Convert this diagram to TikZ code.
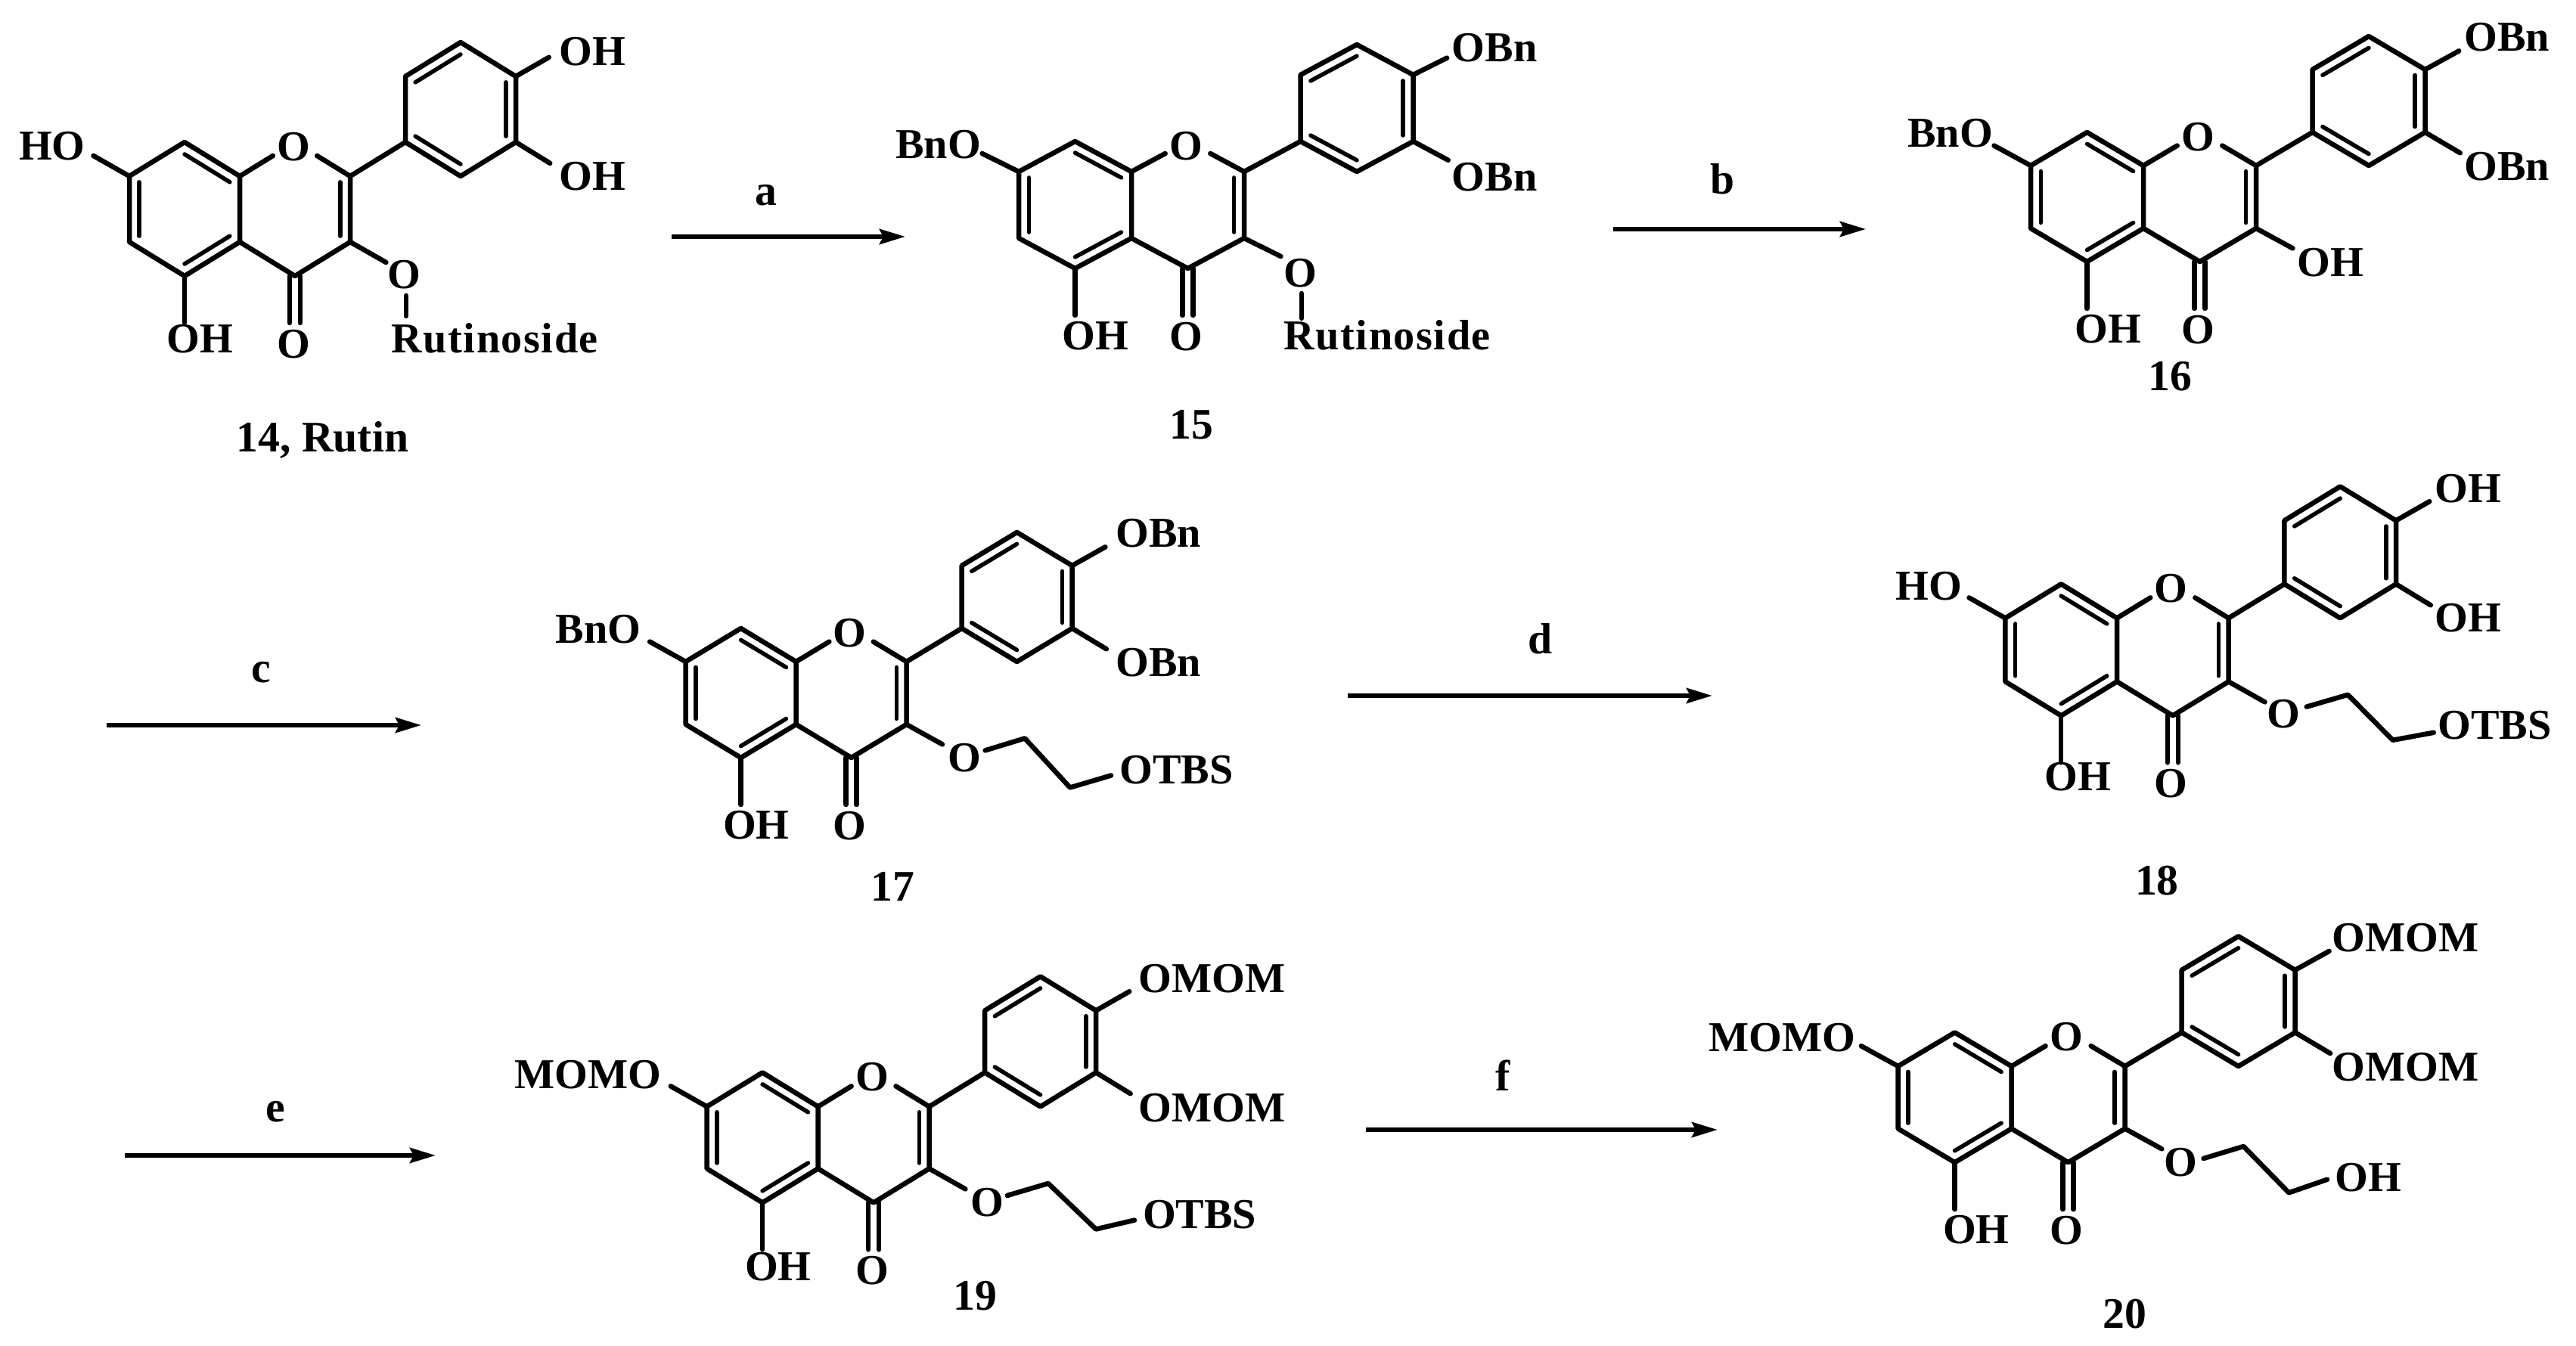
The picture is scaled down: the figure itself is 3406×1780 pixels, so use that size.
\documentclass[tikz,border=0pt]{standalone}
\usepackage{fontspec}
\usetikzlibrary{calc,arrows.meta}
\newfontfamily\namefam{Liberation Serif Bold}
\tikzset{
  bond/.style={line width=0.065cm,line cap=round,line join=round},
  innerbond/.style={line width=0.055cm,line cap=round},
  atom/.style={font=\namefam\fontsize{16}{18}\selectfont,inner sep=0pt,anchor=base west,xshift=-0.01cm},
  ringatom/.style={font=\namefam\fontsize{16}{18}\selectfont,inner sep=0pt},
  molname/.style={font=\namefam\fontsize{16.4}{18}\selectfont,inner sep=0pt,anchor=base west,xshift=-0.03cm},
  steplabel/.style={font=\namefam\fontsize{16.4}{18}\selectfont,inner sep=0pt,anchor=base},
  reaction/.style={line width=0.06cm,-{Stealth[length=0.34cm,width=0.2cm,inset=0.05cm]}}
}
% name, x and y of C8a, half ring width, vertical bond, slant of a ring bond
\newcommand{\flavone}[6]{
  \coordinate (#1c8a) at (#2,#3);
  \coordinate (#1c8) at (#2-#4,#3-#6);
  \coordinate (#1c7) at (#2-2*#4,#3);
  \coordinate (#1c6) at (#2-2*#4,#3+#5);
  \coordinate (#1c5) at (#2-#4,#3+#5+#6);
  \coordinate (#1c4a) at (#2,#3+#5);
  \coordinate (#1c4) at (#2+#4,#3+#5+#6);
  \coordinate (#1c3) at (#2+2*#4,#3+#5);
  \coordinate (#1c2) at (#2+2*#4,#3);
  \coordinate (#1b1) at (#2+3*#4,#3-#6);
  \coordinate (#1b2) at (#2+4*#4,#3);
  \coordinate (#1b3) at (#2+5*#4,#3-#6);
  \coordinate (#1b4) at (#2+5*#4,#3-#6-#5);
  \coordinate (#1b5) at (#2+4*#4,#3-2*#6-#5);
  \coordinate (#1b6) at (#2+3*#4,#3-#6-#5);
  \coordinate (#1ca) at (#2-#4,#3+0.5*#5);
  \coordinate (#1cc) at (#2+#4,#3+0.5*#5);
  \coordinate (#1cb) at (#2+4*#4,#3-#6-0.5*#5);
  \coordinate (#1e1a) at ($(#1c8a)+(0.6*#4,-0.6*#6)$);
  \coordinate (#1e1b) at ($(#1c2)+(-0.6*#4,-0.6*#6)$);
  \coordinate (#1e7) at ($(#1c7)+(-0.65*#4,-0.6*#6)$);
  \coordinate (#1e3) at ($(#1c3)+(0.65*#4,0.6*#6)$);
  \coordinate (#1eb3) at ($(#1b3)+(0.62*#4,0.62*#6)$);
  \coordinate (#1eb4) at ($(#1b4)+(0.6*#4,-0.56*#6)$);
  \coordinate (#1e5) at ($(#1c5)+(0,62)$);
  \node[ringatom] (#1o1) at (#2+#4-2,#3-#6+6) {O};
  \node[ringatom] (#1o4) at (#2+#4-2,#3+#5+#6+90) {O};
  \draw[bond] (#1c8a) -- (#1c8) -- (#1c7) -- (#1c6) -- (#1c5) -- (#1c4a) -- cycle;
  \draw[bond] (#1c4a) -- (#1c4) -- (#1c3) -- (#1c2) -- (#1b1);
  \draw[bond] (#1b1) -- (#1b2) -- (#1b3) -- (#1b4) -- (#1b5) -- (#1b6) -- cycle;
  \draw[bond] (#1c8a) -- (#1e1a);
  \draw[bond] (#1c2) -- (#1e1b);
  \draw[bond] (#1c7) -- (#1e7);
  \draw[bond] (#1c3) -- (#1e3);
  \draw[bond] (#1b3) -- (#1eb3);
  \draw[bond] (#1b4) -- (#1eb4);
  \draw[bond] (#1c5) -- (#1e5);
  \draw[bond] ($(#1c4)+(-7,0)$) -- ($(#1c4)+(-7,62)$);
  \draw[bond] ($(#1c4)+(7,0)$) -- ($(#1c4)+(7,62)$);
  \draw[innerbond] ($(#1c7)!0.18!(#1ca)$) -- ($(#1c6)!0.18!(#1ca)$);
  \draw[innerbond] ($(#1c8)!0.18!(#1ca)$) -- ($(#1c8a)!0.18!(#1ca)$);
  \draw[innerbond] ($(#1c5)!0.18!(#1ca)$) -- ($(#1c4a)!0.18!(#1ca)$);
  \draw[innerbond] ($(#1c2)!0.18!(#1cc)$) -- ($(#1c3)!0.18!(#1cc)$);
  \draw[innerbond] ($(#1b1)!0.18!(#1cb)$) -- ($(#1b2)!0.18!(#1cb)$);
  \draw[innerbond] ($(#1b3)!0.18!(#1cb)$) -- ($(#1b4)!0.18!(#1cb)$);
  \draw[innerbond] ($(#1b5)!0.18!(#1cb)$) -- ($(#1b6)!0.18!(#1cb)$);
}
\begin{document}
\begin{tikzpicture}[x=0.01cm,y=-0.01cm]
	\useasboundingbox (0,0) rectangle (3406,1780);
	% 14
	\flavone{m14}{317}{233}{73}{87}{45}
	\node[atom] (m14ho) at (25.5,212) {HO};
	\node[atom] (m14oha) at (740,86.5) {OH};
	\node[atom] (m14ohb) at (740,252) {OH};
	\node[atom] (m14ohc) at (221,466.5) {OH};
	\node[ringatom] (m14o3) at (534.4,363) {O};
	\node[atom] (m14rut) at (518,466.5) {\addfontfeature{LetterSpace=2.7}Rutinoside};
	\coordinate (m14s1) at (537,391);
	\coordinate (m14s2) at (537,418);
	\draw[bond] (m14s1) -- (m14s2);
	\node[molname] (m14name) at (315,598) {14, Rutin};
	% 15
	\flavone{m15}{1496}{227}{74.5}{88}{40}
	\node[atom] (m15bno) at (1184.6,210) {BnO};
	\node[atom] (m15oa) at (1920,82) {OBn};
	\node[atom] (m15ob) at (1920,253) {OBn};
	\node[atom] (m15oh) at (1405,463) {OH};
	\node[ringatom] (m15o3) at (1719.5,361) {O};
	\node[atom] (m15rut) at (1698,463) {\addfontfeature{LetterSpace=2.7}Rutinoside};
	\coordinate (m15s1) at (1721,388);
	\coordinate (m15s2) at (1721,421);
	\draw[bond] (m15s1) -- (m15s2);
	\node[molname] (m15name) at (1549,581) {15};
	% 16
	\flavone{m16}{2834}{219}{74.5}{83}{44}
	\node[atom] (m16bno) at (2522.7,195) {BnO};
	\node[atom] (m16oa) at (3258.6,68) {OBn};
	\node[atom] (m16ob) at (3258.6,238.7) {OBn};
	\node[atom] (m16oh) at (3038,365.4) {OH};
	\node[atom] (m16ohb) at (2744,454) {OH};
	\node[molname] (m16name) at (2843,517) {16};
	% 17
	\flavone{m17}{1052.6}{875}{73}{83}{44}
	\node[atom] (m17bno) at (735,850.8) {BnO};
	\node[atom] (m17oa) at (1475.6,723.6) {OBn};
	\node[atom] (m17ob) at (1475.6,894.6) {OBn};
	\node[ringatom] (m17o3) at (1275,1002.4) {O};
	\coordinate (m17p1) at (1302.6,992.4);
	\coordinate (m17p2) at (1355,976.4);
	\coordinate (m17p3) at (1414.8,1041.5);
	\coordinate (m17p4) at (1469,1025.5);
	\draw[bond] (m17p1) -- (m17p2) -- (m17p3) -- (m17p4);
	\node[atom] (m17otbs) at (1480.8,1037) {OTBS};
	\node[atom] (m17oh) at (956.4,1110) {OH};
	\node[molname] (m17name) at (1153.8,1192) {17};
	% 18
	\flavone{m18}{2799}{817.4}{73.8}{84}{45}
	\node[atom] (m18ho) at (2506.7,793.6) {HO};
	\node[atom] (m18oha) at (3220,664.8) {OH};
	\node[atom] (m18ohb) at (3220,836) {OH};
	\node[ringatom] (m18o3) at (3019,944.6) {O};
	\coordinate (m18p1) at (3049.7,934.7);
	\coordinate (m18p2) at (3104.3,918.8);
	\coordinate (m18p3) at (3163.7,978.8);
	\coordinate (m18p4) at (3217.7,968.8);
	\draw[bond] (m18p1) -- (m18p2) -- (m18p3) -- (m18p4);
	\node[atom] (m18otbs) at (3223.6,977.6) {OTBS};
	\node[atom] (m18oh) at (2704,1046) {OH};
	\node[molname] (m18name) at (2825.4,1183.5) {18};
	% 19
	\flavone{m19}{1081.6}{1463.4}{73.5}{82}{45}
	\node[atom] (m19momo) at (681,1439) {MOMO};
	\node[atom] (m19oa) at (1506,1312) {OMOM};
	\node[atom] (m19ob) at (1506,1483.4) {OMOM};
	\node[ringatom] (m19o3) at (1305,1590) {O};
	\coordinate (m19p1) at (1331.8,1581);
	\coordinate (m19p2) at (1386,1565);
	\coordinate (m19p3) at (1449,1625.5);
	\coordinate (m19p4) at (1500,1613.6);
	\draw[bond] (m19p1) -- (m19p2) -- (m19p3) -- (m19p4);
	\node[atom] (m19otbs) at (1511.4,1624.8) {OTBS};
	\node[atom] (m19oh) at (985.4,1693.4) {OH};
	\node[molname] (m19name) at (1263,1732) {19};
	% 20
	\flavone{m20}{2659.6}{1410}{75}{82.6}{44.6}
	\node[atom] (m20momo) at (2259.7,1390.3) {MOMO};
	\node[atom] (m20oa) at (3084,1258.4) {OMOM};
	\node[atom] (m20ob) at (3084,1429) {OMOM};
	\node[ringatom] (m20o3) at (2883,1537) {O};
	\coordinate (m20p1) at (2913.5,1532);
	\coordinate (m20p2) at (2966.4,1516);
	\coordinate (m20p3) at (3026.3,1577.3);
	\coordinate (m20p4) at (3077,1559.8);
	\draw[bond] (m20p1) -- (m20p2) -- (m20p3) -- (m20p4);
	\node[atom] (m20ohc) at (3088,1575.5) {OH};
	\node[atom] (m20oh) at (2569.3,1644) {OH};
	\node[molname] (m20name) at (2783,1756.5) {20};
	% reaction arrows
	\coordinate (ra1) at (888,313);
	\coordinate (ra2) at (1197,313);
	\draw[reaction] (ra1) -- (ra2);
	\node[steplabel] (la) at (1013,272) {a};
	\coordinate (rb1) at (2133,303);
	\coordinate (rb2) at (2467,303);
	\draw[reaction] (rb1) -- (rb2);
	\node[steplabel] (lb) at (2278,257) {b};
	\coordinate (rc1) at (141,959);
	\coordinate (rc2) at (557,959);
	\draw[reaction] (rc1) -- (rc2);
	\node[steplabel] (lc) at (345,903) {c};
	\coordinate (rd1) at (1782,920);
	\coordinate (rd2) at (2264,920);
	\draw[reaction] (rd1) -- (rd2);
	\node[steplabel] (ld) at (2037,865) {d};
	\coordinate (re1) at (165,1528);
	\coordinate (re2) at (576,1528);
	\draw[reaction] (re1) -- (re2);
	\node[steplabel] (le) at (364,1483) {e};
	\coordinate (rf1) at (1806,1494);
	\coordinate (rf2) at (2271,1494);
	\draw[reaction] (rf1) -- (rf2);
	\node[steplabel] (lf) at (1987,1442) {f};
\end{tikzpicture}
\end{document}
